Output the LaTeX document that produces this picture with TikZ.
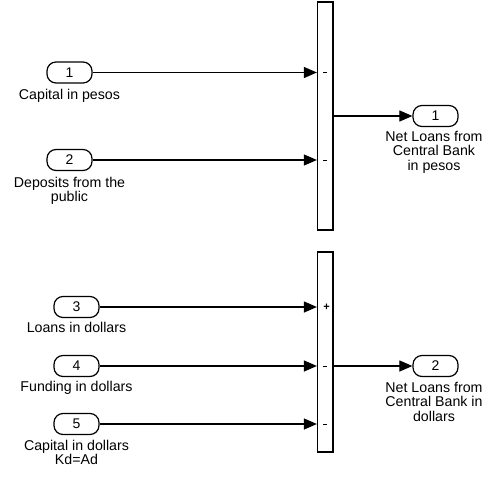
\documentclass[tikz,border=0pt]{standalone}
\usepackage{fontspec}
\setmainfont{Liberation Sans}
\usetikzlibrary{arrows.meta}
\begin{document}
\begin{tikzpicture}[x=1pt,y=-1pt,
  port/.style={draw,line width=1.2pt,rounded corners=9pt,minimum width=45pt,minimum height=21pt,inner sep=0pt,font=\fontsize{14}{14.5}\selectfont},
  lbl/.style={anchor=north,align=center,inner sep=0pt,font=\fontsize{14.2}{14.5}\selectfont},
  sumbar/.style={draw,line width=1.2pt,minimum width=15.5pt,inner sep=0pt},
  sig/.style={-{Triangle[length=13pt,width=11pt]},line width=1.1pt},
  sgn/.style={font=\fontsize{11}{11}\selectfont,inner sep=0pt}]
\useasboundingbox (0,0) rectangle (486,481);
% sum bars
\node[sumbar,minimum height=228pt] (s1) at (325.25,116) {};
\node[sumbar,minimum height=200pt] (s2) at (325.25,352) {};
% inputs top
\node[port] (i1) at (69.5,72.5) {1};
\node[lbl] (l1) at (69.5,89) {Capital in pesos};
\node[port] (i2) at (69.5,160) {2};
\node[lbl] (l2) at (69.5,177) {Deposits from the\\public};
% output top
\node[port] (o1) at (435.5,116) {1};
\node[lbl] (lo1) at (434,131) {Net Loans from\\Central Bank\\in pesos};
% inputs bottom
\node[port] (i3) at (76.5,307) {3};
\node[lbl] (l3) at (76.5,322) {Loans in dollars};
\node[port] (i4) at (76.5,366) {4};
\node[lbl] (l4) at (76.5,381) {Funding in dollars};
\node[port] (i5) at (76.5,424) {5};
\node[lbl] (l5) at (76.5,440) {Capital in dollars\\Kd=Ad};
% output bottom
\node[port] (o2) at (435.5,366) {2};
\node[lbl] (lo2) at (434,382) {Net Loans from\\Central Bank in\\dollars};
% connectors
\draw[sig] (i1.east) -- (i1.east -| s1.west);
\draw[sig] (i2.east) -- (i2.east -| s1.west);
\draw[sig] (s1.east |- o1.west) -- (o1.west);
\draw[sig] (i3.east) -- (i3.east -| s2.west);
\draw[sig] (i4.east) -- (i4.east -| s2.west);
\draw[sig] (i5.east) -- (i5.east -| s2.west);
\draw[sig] (s2.east |- o2.west) -- (o2.west);
% signs
\node[sgn] (g1) at (325,72.5) {\rule{4.5pt}{1pt}};
\node[sgn] (g2) at (325,160) {\rule{4.5pt}{1pt}};
\node[sgn] (g3) at (326.5,307) {\textbf{+}};
\node[sgn] (g4) at (325,366) {\rule{4.5pt}{1pt}};
\node[sgn] (g5) at (325,424) {\rule{4.5pt}{1pt}};
\end{tikzpicture}
\end{document}
